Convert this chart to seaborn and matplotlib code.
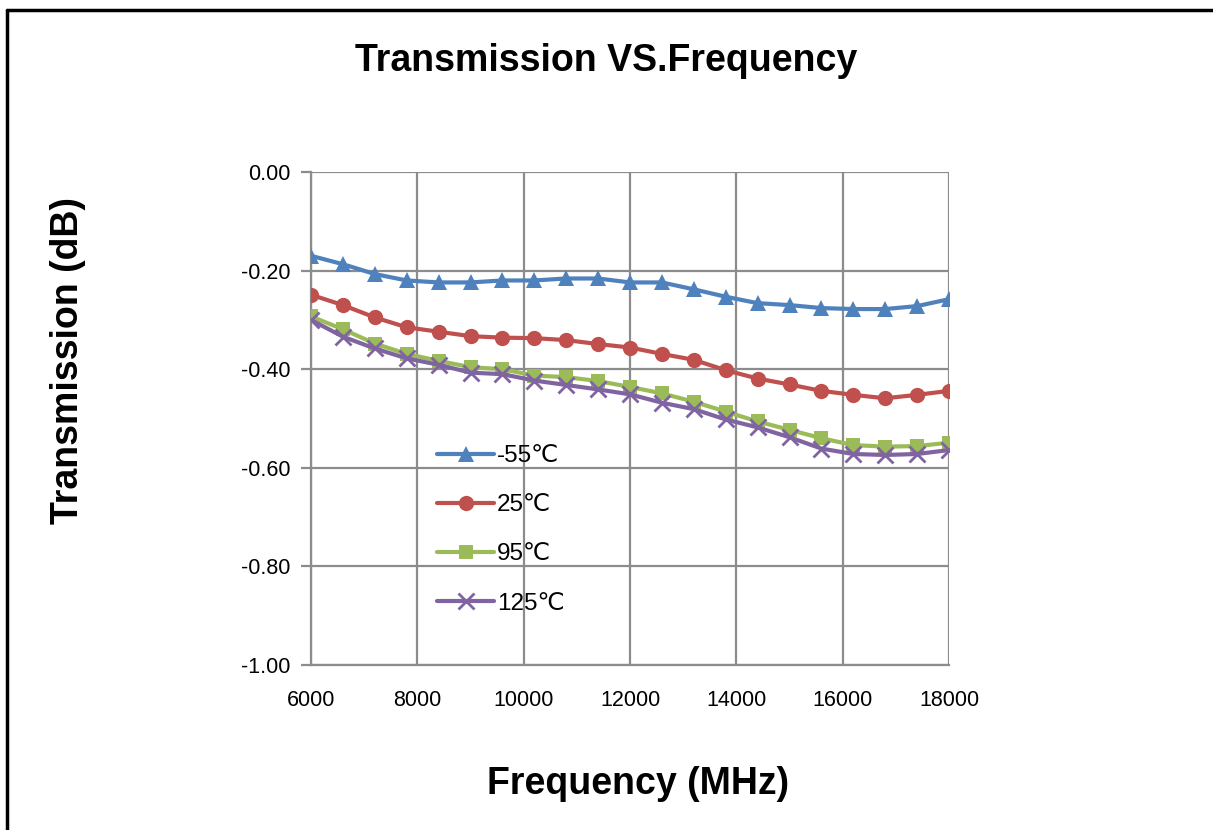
import matplotlib
matplotlib.use("Agg")
import matplotlib.pyplot as plt
from matplotlib.lines import Line2D
import seaborn as sns
import pandas as pd

# ---- data ----
freq = [6000, 6600, 7200, 7800, 8400, 9000, 9600, 10200, 10800, 11400, 12000,
        12600, 13200, 13800, 14400, 15000, 15600, 16200, 16800, 17400, 18000]
t_m55 = [-0.170, -0.187, -0.207, -0.220, -0.224, -0.224, -0.220, -0.220, -0.216, -0.216, -0.224,
         -0.224, -0.238, -0.253, -0.266, -0.270, -0.276, -0.278, -0.278, -0.272, -0.258]
t_25 = [-0.249, -0.270, -0.295, -0.315, -0.324, -0.333, -0.336, -0.337, -0.341, -0.349, -0.356,
        -0.369, -0.381, -0.402, -0.419, -0.431, -0.444, -0.452, -0.459, -0.452, -0.444]
t_95 = [-0.293, -0.319, -0.348, -0.369, -0.383, -0.396, -0.400, -0.413, -0.416, -0.424, -0.436,
        -0.449, -0.466, -0.486, -0.506, -0.523, -0.540, -0.554, -0.557, -0.556, -0.549]
t_125 = [-0.300, -0.334, -0.358, -0.378, -0.391, -0.407, -0.410, -0.423, -0.432, -0.441, -0.451,
         -0.468, -0.481, -0.502, -0.518, -0.538, -0.561, -0.572, -0.574, -0.572, -0.564]
series_labels = ["-55\u2103", "25\u2103", "95\u2103", "125\u2103"]
x_ticks = [6000, 8000, 10000, 12000, 14000, 16000, 18000]
y_ticks = [0.0, -0.2, -0.4, -0.6, -0.8, -1.0]

title = "Transmission VS.Frequency"
xlabel = "Frequency (MHz)"
ylabel = "Transmission (dB)"

# ---- style ----
sns.set_theme(style="white")
plt.rcParams["font.family"] = ["Liberation Sans", "DejaVu Sans"]
plt.rcParams["text.color"] = "black"
plt.rcParams["xtick.color"] = "black"
plt.rcParams["ytick.color"] = "black"

colors = ["#4F81BD", "#C0504D", "#9BBB59", "#8064A2"]
markers = ["^", "o", "s", "x"]
msizes = [11, 11, 9.5, 11]

df = pd.DataFrame({"freq": freq * 4,
                   "val": t_m55 + t_25 + t_95 + t_125,
                   "series": sum([[s] * len(freq) for s in series_labels], [])})

fig = plt.figure(figsize=(12.13, 8.30), dpi=100)
ax = fig.add_axes([311 / 1213, 1 - 665 / 830, (949 - 311) / 1213, (665 - 172) / 830])

for lab, c, m, ms in zip(series_labels, colors, markers, msizes):
    sub = df[df["series"] == lab]
    sns.lineplot(data=sub, x="freq", y="val", ax=ax, color=c, linewidth=3,
                 marker=m, markersize=ms, markeredgewidth=2 if m == "x" else 0,
                 markeredgecolor=c, legend=False, zorder=3)

ax.set_xlim(6000, 18000)
ax.set_ylim(-1.0, 0.0)
ax.set_xticks(x_ticks)
ax.set_yticks(y_ticks)
ax.set_yticklabels([f"{v:.2f}" for v in y_ticks])
ax.grid(True, color="#8C8C8C", linewidth=1.6)
ax.set_axisbelow(True)
for side in ["top", "right"]:
    ax.spines[side].set_visible(False)
for side in ["left", "bottom"]:
    ax.spines[side].set_color("#8C8C8C")
    ax.spines[side].set_linewidth(1.6)
ax.tick_params(axis="y", direction="out", length=7, width=1.6, color="#8C8C8C",
               labelsize=15.5, pad=8, left=True, labelcolor="black")
ax.tick_params(axis="x", length=0, labelsize=15.5, pad=18, labelcolor="black")

ax.set_xlabel("")
ax.set_ylabel("")
fig.text(606 / 1213, 1 - 61 / 830, title, ha="center", va="center",
         fontsize=27, fontweight="bold", color="black")
fig.text(638 / 1213, 1 - 784 / 830, xlabel, ha="center", va="center",
         fontsize=27, fontweight="bold", color="black")
fig.text(68 / 1213, 1 - 360 / 830, ylabel, ha="center", va="center",
         rotation=90, fontsize=27, fontweight="bold", color="black")

handles = [Line2D([0], [0], color=c, linewidth=3, marker=m, markersize=ms,
                  markeredgewidth=2 if m == "x" else 0, markeredgecolor=c)
           for c, m, ms in zip(colors, markers, msizes)]
leg = ax.legend(handles, series_labels, loc="upper left",
                bbox_to_anchor=(437 / 1213, 1 - 445 / 830), bbox_transform=fig.transFigure,
                frameon=False, fontsize=17.5, handlelength=2.35, handletextpad=0.12,
                labelspacing=1.12, borderpad=0, borderaxespad=0)

# outer frame lines (top and left)
fig.add_artist(Line2D([7 / 1213, 1.0], [1 - 10 / 830, 1 - 10 / 830],
                      transform=fig.transFigure, color="black", linewidth=2.5))
fig.add_artist(Line2D([7 / 1213, 7 / 1213], [0.0, 1 - 10 / 830],
                      transform=fig.transFigure, color="black", linewidth=2.5))

fig.savefig("out.png", dpi=100, facecolor="white")
